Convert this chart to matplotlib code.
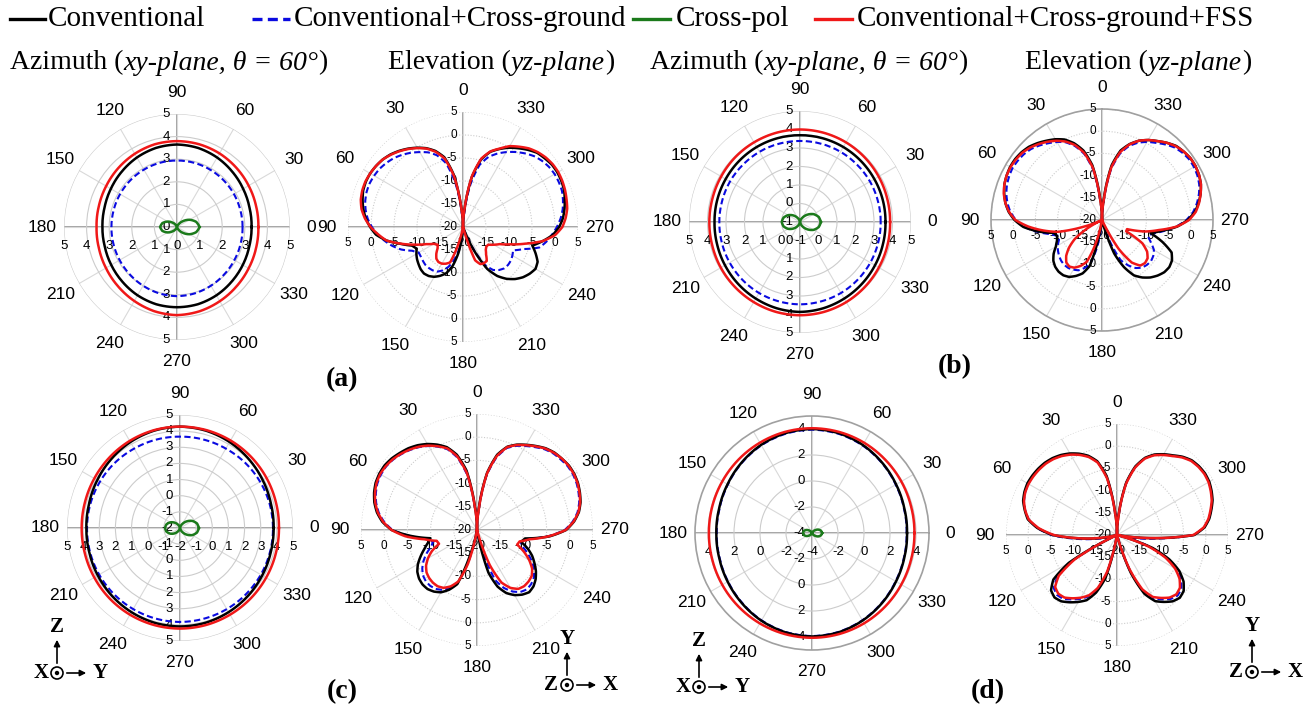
import numpy as np
import matplotlib.pyplot as plt
import matplotlib.transforms as mtransforms
from matplotlib.patches import Circle

W, H = 1311, 713
SERIF = 'Liberation Serif'
plt.rcParams['font.family'] = 'Liberation Sans'

# angle grids (deg)
AZ_DEG = np.arange(0, 360, 15)
EL_DEG = np.arange(0, 360, 5)

# ---------------- azimuth cuts (dB), 15 deg steps ----------------
a_az_conv = [3.30, 3.32, 3.38, 3.46, 3.55, 3.62, 3.65, 3.62, 3.55, 3.46, 3.38, 3.32,
             3.30, 3.31, 3.36, 3.42, 3.49, 3.54, 3.55, 3.54, 3.49, 3.42, 3.36, 3.31]
a_az_cg = [2.90, 2.90, 2.91, 2.92, 2.93, 2.94, 2.94, 2.94, 2.93, 2.92, 2.91, 2.90,
           2.90, 2.91, 2.93, 2.96, 3.00, 3.04, 3.06, 3.04, 3.00, 2.96, 2.93, 2.91]
a_az_xpol = [1.00, 0.88, 0.64, 0.36, 0.14, 0.03, 0.00, 0.02, 0.10, 0.27, 0.48, 0.67,
             0.75, 0.67, 0.48, 0.27, 0.10, 0.02, 0.00, 0.03, 0.14, 0.36, 0.64, 0.88]
a_az_fss = [3.60, 3.62, 3.66, 3.71, 3.76, 3.79, 3.80, 3.79, 3.74, 3.68, 3.62, 3.58,
            3.56, 3.58, 3.63, 3.70, 3.78, 3.86, 3.90, 3.86, 3.79, 3.72, 3.66, 3.62]

b_az_conv = [3.62, 3.63, 3.64, 3.66, 3.68, 3.69, 3.69, 3.69, 3.68, 3.66, 3.64, 3.63,
             3.62, 3.64, 3.68, 3.73, 3.78, 3.83, 3.86, 3.83, 3.78, 3.73, 3.68, 3.64]
b_az_cg = [3.36, 3.36, 3.37, 3.37, 3.38, 3.38, 3.38, 3.38, 3.38, 3.37, 3.37, 3.36,
           3.36, 3.37, 3.39, 3.41, 3.43, 3.44, 3.45, 3.44, 3.43, 3.41, 3.39, 3.37]
b_az_xpol = [0.13, 0.05, -0.15, -0.44, -0.72, -0.92, -1.00, -0.93, -0.75, -0.50, -0.26, -0.08,
             -0.01, -0.08, -0.26, -0.50, -0.75, -0.93, -1.00, -0.92, -0.72, -0.44, -0.15, 0.05]
b_az_fss = [3.87, 3.88, 3.91, 3.94, 3.97, 3.99, 4.00, 3.99, 3.97, 3.95, 3.92, 3.90,
            3.90, 3.91, 3.94, 3.97, 4.00, 4.03, 4.04, 4.03, 4.00, 3.96, 3.92, 3.89]

c_az_conv = [3.80, 3.83, 3.92, 4.03, 4.15, 4.24, 4.28, 4.24, 4.15, 4.03, 3.92, 3.83,
             3.80, 3.82, 3.88, 3.95, 4.02, 4.08, 4.10, 4.08, 4.02, 3.95, 3.88, 3.82]
c_az_cg = [3.76, 3.75, 3.73, 3.71, 3.68, 3.67, 3.66, 3.67, 3.68, 3.71, 3.73, 3.75,
           3.76, 3.77, 3.78, 3.79, 3.80, 3.81, 3.82, 3.81, 3.80, 3.79, 3.78, 3.77]
c_az_xpol = [-0.83, -0.91, -1.12, -1.42, -1.71, -1.92, -2.00, -1.94, -1.77, -1.53, -1.30, -1.13,
             -1.07, -1.13, -1.30, -1.53, -1.77, -1.94, -2.00, -1.92, -1.71, -1.42, -1.12, -0.91]
c_az_fss = [4.13, 4.15, 4.19, 4.23, 4.26, 4.28, 4.28, 4.27, 4.23, 4.18, 4.13, 4.10,
            4.09, 4.10, 4.13, 4.17, 4.20, 4.22, 4.23, 4.22, 4.20, 4.18, 4.16, 4.14]

d_az_conv = [3.31, 3.35, 3.47, 3.64, 3.82, 3.95, 4.00, 3.95, 3.83, 3.66, 3.50, 3.39,
             3.36, 3.39, 3.49, 3.63, 3.79, 3.91, 3.96, 3.91, 3.78, 3.62, 3.46, 3.35]
d_az_cg = [3.28, 3.32, 3.44, 3.61, 3.78, 3.90, 3.95, 3.90, 3.79, 3.63, 3.47, 3.36,
           3.33, 3.36, 3.46, 3.60, 3.76, 3.88, 3.93, 3.88, 3.75, 3.59, 3.43, 3.32]
d_az_xpol = [-3.22, -3.29, -3.47, -3.72, -3.91, -3.99, -4.00, -3.99, -3.92, -3.75, -3.53, -3.36,
             -3.30, -3.36, -3.53, -3.75, -3.92, -3.99, -4.00, -3.99, -3.91, -3.72, -3.47, -3.29]
d_az_fss = [3.88, 3.89, 3.93, 3.97, 4.02, 4.05, 4.06, 4.05, 4.02, 3.99, 3.96, 3.94,
            3.93, 3.94, 3.97, 4.00, 4.03, 4.05, 4.06, 4.05, 4.02, 3.98, 3.93, 3.89]

# ---------------- elevation cuts (dB), 5 deg steps ----------------
a_el_conv = [-20, -16, -8.5, -4.3, -2.4, -1.1, -0.1, 0.8, 1.6, 2.3, 2.8, 3.1,
             3.3, 3.3, 3.1, 2.6, 2.0, 1.2, 0.2, -1.0, -3.1, -5.9, -8.2, -8.9,
             -8.3, -7.8, -7.4, -7.0, -6.8, -7.0, -7.5, -8.3, -9.3, -11.2, -14.3, -18.5,
             -20, -20, -20, -20, -20, -14.5, -9.5, -7.0, -5.3, -4.0, -3.0, -2.3,
             -1.8, -2.1, -3.2, -4.4, -2.4, -0.4, 0.9, 1.8, 2.4, 2.9, 3.4, 3.6,
             3.7, 3.6, 3.2, 2.8, 1.9, 0.9, -0.1, -1.3, -2.6, -4.8, -9.0, -16]
a_el_cg = [-20, -17, -10, -5.6, -3.4, -2.1, -1.2, -0.3, 0.5, 1.2, 1.7, 2.1,
           2.3, 2.4, 2.3, 2.0, 1.5, 0.8, -0.2, -1.4, -2.7, -4.1, -5.7, -7.8,
           -8.9, -8.8, -8.6, -8.4, -8.4, -8.5, -8.8, -9.6, -10.8, -12.7, -15.0, -18.0,
           -20, -20, -20, -20, -20, -15.0, -10.5, -8.6, -7.8, -7.3, -7.2, -7.3,
           -7.6, -8.0, -6.0, -2.8, -1.6, -0.6, 0.4, 1.3, 2.0, 2.5, 2.9, 3.0,
           3.0, 2.8, 2.4, 1.8, 0.9, -0.1, -1.2, -2.4, -3.8, -6.0, -10.5, -17]
a_el_fss = [-20, -16, -8.8, -4.6, -2.6, -1.2, -0.2, 0.7, 1.5, 2.2, 2.8, 3.1,
            3.3, 3.4, 3.3, 3.0, 2.4, 1.4, 0.1, -1.5, -3.1, -6.0, -8.8, -11.2,
            -12.7, -13.3, -12.8, -11.8, -11.0, -10.7, -10.8, -11.2, -11.8, -16.3, -20, -20,
            -20, -20, -20, -20, -12.3, -11.1, -10.9, -11.0, -12.2, -13.0, -13.4, -13.3,
            -12.3, -11.2, -9.0, -6.0, -2.4, 0.1, 1.6, 2.4, 3.0, 3.3, 3.6, 3.8,
            3.9, 3.8, 3.5, 3.0, 2.3, 1.3, 0.3, -1.2, -2.5, -4.6, -8.8, -16]

b_el_conv = [-20, -15, -7.5, -3.8, -1.6, 0.0, 1.0, 1.8, 2.6, 3.3, 3.7, 3.9,
             3.9, 3.7, 3.4, 2.8, 2.1, 1.1, -0.3, -2.2, -5.3, -8.8, -9.3, -8.8,
             -8.0, -6.7, -5.7, -5.1, -4.8, -4.8, -5.2, -6.1, -7.2, -9.3, -17, -20,
             -20, -20, -20, -20, -12, -8.3, -5.6, -4.2, -3.1, -2.3, -1.7, -1.5,
             -1.8, -2.7, -5.5, -8.7, -6.2, -3.0, -0.7, 1.0, 2.1, 3.0, 3.7, 4.1,
             4.3, 4.3, 4.0, 3.6, 2.7, 1.7, 0.8, -0.3, -1.8, -3.8, -7.5, -15]
b_el_cg = [-20, -16, -8.5, -4.6, -2.3, -0.7, 0.3, 1.1, 1.9, 2.6, 3.0, 3.2,
           3.3, 3.1, 2.8, 2.3, 1.6, 0.7, -0.6, -2.4, -5.0, -7.8, -9.6, -9.3,
           -8.5, -7.9, -7.4, -7.0, -6.8, -6.8, -7.1, -7.5, -8.5, -9.8, -14, -20,
           -20, -20, -20, -20, -15, -10, -8.2, -6.8, -6.0, -5.7, -5.6, -5.9,
           -6.5, -7.8, -9.0, -8.3, -5.8, -3.2, -1.0, 0.6, 1.7, 2.6, 3.3, 3.7,
           3.9, 3.9, 3.6, 3.1, 2.2, 1.2, 0.3, -0.8, -2.3, -4.6, -8.5, -16]
b_el_fss = [-20, -15.5, -8.0, -4.3, -2.0, -0.5, 0.6, 1.5, 2.3, 3.0, 3.5, 3.7,
            3.8, 3.7, 3.4, 2.9, 2.1, 1.0, -0.5, -3.3, -6.5, -9.7, -15.5, -20,
            -16, -12.5, -10.3, -8.6, -7.5, -7.2, -7.6, -8.6, -10.0, -14.5, -20, -20,
            -20, -20, -20, -20, -20, -20, -12.5, -8.3, -6.6, -6.3, -6.6, -7.6,
            -9.5, -14, -14, -10, -7.0, -3.1, -0.4, 1.2, 2.2, 3.0, 3.7, 4.1,
            4.3, 4.3, 4.0, 3.5, 2.7, 1.7, 0.8, -0.3, -1.9, -4.2, -8.0, -15.5]

c_el_conv = [-20, -15, -7.0, -3.2, -1.0, 0.3, 1.4, 2.3, 3.0, 3.5, 4.0, 4.3,
             4.3, 4.1, 3.6, 2.9, 1.9, 0.5, -1.6, -5.6, -9.8, -9.0, -7.9, -6.6,
             -5.3, -4.3, -3.7, -3.4, -3.4, -3.8, -4.5, -5.8, -7.6, -15, -20, -20,
             -20, -20, -20, -10.5, -7.0, -5.0, -3.8, -3.0, -2.5, -2.8, -3.5, -4.5,
             -5.7, -6.9, -8.4, -10.2, -9.5, -4.3, -0.8, 1.0, 2.3, 3.1, 3.6, 4.0,
             4.2, 4.2, 3.9, 3.6, 3.0, 2.1, 1.2, 0.3, -0.9, -3.2, -7.5, -15]
c_el_cg = [-20, -15.5, -8.0, -3.9, -1.5, -0.2, 0.9, 1.8, 2.5, 3.1, 3.6, 3.9,
           3.9, 3.7, 3.2, 2.5, 1.5, 0.1, -1.8, -5.4, -9.0, -10.2, -9.5, -8.0,
           -6.7, -5.6, -4.8, -4.4, -4.3, -4.5, -5.1, -6.2, -8.0, -13, -20, -20,
           -20, -20, -20, -15, -8.5, -6.2, -4.7, -3.7, -3.3, -3.5, -4.0, -5.0,
           -6.3, -7.9, -9.6, -10.3, -9.0, -4.6, -1.1, 0.7, 2.0, 2.8, 3.3, 3.7,
           3.9, 3.9, 3.6, 3.3, 2.7, 1.8, 0.9, 0.0, -1.2, -3.8, -8.0, -15.5]
c_el_fss = [-20, -15.5, -7.6, -3.6, -1.3, -0.1, 1.0, 1.9, 2.6, 3.2, 3.7, 4.0,
            4.1, 3.9, 3.4, 2.7, 1.7, 0.3, -1.6, -4.5, -8.5, -11.0, -11.3, -9.3,
            -7.8, -6.6, -5.8, -5.4, -5.2, -5.2, -5.6, -6.6, -8.2, -12.5, -20, -20,
            -20, -20, -20, -20, -12, -7.5, -5.6, -4.5, -4.2, -4.3, -4.6, -5.5,
            -7.0, -8.8, -10.8, -10.5, -8.5, -4.5, -0.9, 0.9, 2.2, 3.0, 3.5, 3.9,
            4.1, 4.1, 3.9, 3.5, 2.9, 2.0, 1.1, 0.2, -1.0, -3.5, -7.7, -15.5]

d_el_conv = [-20, -14.5, -6.5, -2.8, -1.0, 0.2, 1.2, 2.0, 2.6, 3.0, 3.2, 3.3,
             3.3, 3.0, 2.5, 1.5, 0.4, -2.0, -5.5, -11.5, -16, -20, -20, -20,
             -7.5, -2.5, -0.6, -0.1, -0.5, -1.5, -2.6, -3.8, -6.2, -10, -20, -20,
             -20, -20, -20, -20, -11, -5.4, -2.8, -1.6, -0.5, 0.0, -0.4, -1.7,
             -3.8, -7.0, -11.5, -20, -20, -12, -2.6, -0.2, 1.1, 2.0, 2.9, 3.5,
             4.0, 4.2, 4.1, 3.8, 3.0, 1.9, 1.0, 0.0, -1.5, -4.0, -8.0, -15]
d_el_cg = [-20, -14.8, -6.8, -3.0, -1.2, 0.0, 1.0, 1.8, 2.4, 2.8, 3.0, 3.1,
           3.1, 2.8, 2.3, 1.4, 0.2, -2.0, -5.2, -10.5, -15, -18, -20, -20,
           -8.5, -3.6, -1.4, -0.9, -1.2, -2.3, -3.4, -4.7, -7.0, -11, -20, -20,
           -20, -20, -20, -20, -11.5, -6.0, -3.5, -2.3, -1.2, -0.7, -1.1, -2.4,
           -4.5, -7.6, -12, -18, -16, -11, -2.7, -0.3, 1.0, 1.9, 2.8, 3.4,
           3.9, 4.1, 4.0, 3.7, 2.9, 1.8, 0.9, -0.1, -1.6, -4.2, -8.2, -15.2]
d_el_fss = [-20, -15, -7.0, -3.1, -1.3, -0.1, 0.9, 1.7, 2.3, 2.7, 2.9, 3.0,
            3.0, 2.8, 2.3, 1.4, 0.2, -2.3, -5.8, -11.5, -16.5, -20, -20, -20,
            -9.0, -4.0, -1.8, -1.3, -1.6, -2.6, -3.7, -5.0, -7.3, -11.5, -20, -20,
            -20, -20, -20, -20, -12, -6.5, -3.9, -2.7, -1.6, -1.1, -1.5, -2.8,
            -4.9, -8.0, -12.5, -20, -20, -12, -2.8, -0.4, 0.9, 1.8, 2.7, 3.3,
            3.8, 4.0, 3.9, 3.6, 2.8, 1.7, 0.8, -0.2, -1.7, -4.3, -8.3, -15.3]

LEGEND = ['Conventional', 'Conventional+Cross-ground', 'Cross-pol',
          'Conventional+Cross-ground+FSS']

BLACK, BLUE, GREEN, RED = 'black', '#0a0ae0', '#1b7a1b', '#f01818'

fig = plt.figure(figsize=(W / 100, H / 100), dpi=100)


def panel(cx, cy, rad, rmin, rmax, ticks, elev, framed=False):
    ax = fig.add_axes([(cx - rad) / W, 1 - (cy + rad) / H, 2 * rad / W, 2 * rad / H],
                      projection='polar')
    if elev:
        ax.set_theta_zero_location('N')
    rings = [t for t in ticks if t > rmin]
    if rmax not in rings and not framed:
        rings.append(rmax)
    ax.set_yticks(rings)
    ax.set_yticklabels([])
    ax.set_xticks(np.deg2rad(np.arange(0, 360, 30)))
    ax.set_xticklabels([str(a) for a in range(0, 360, 30)], fontsize=12.5)
    ax.tick_params(axis='x', pad=5)
    ax.xaxis.grid(True, color='#d9d9d9', lw=0.8)
    ax.yaxis.grid(True, color='#cccccc', lw=0.8, ls=(0, (1, 1.5)) if elev else '-')
    ax.spines['polar'].set_visible(framed)
    ax.spines['polar'].set_color('#a0a0a0')
    ax.spines['polar'].set_linewidth(1.2)
    ax.plot([0, 1], [0.5, 0.5], transform=ax.transAxes, color='#8c8c8c', lw=1.1, zorder=1.5)
    ax.plot([0.5, 0.5], [0, 1], transform=ax.transAxes, color='#8c8c8c', lw=1.1, zorder=1.5)

    fs = 8.5 if elev else 9.5
    left = mtransforms.offset_copy(ax.transAxes, fig=fig, x=-4 if elev else -5, y=0, units='points')
    below = mtransforms.offset_copy(ax.transAxes, fig=fig, x=0, y=-11.5 if elev else -13.5,
                                    units='points')
    for t in ticks:
        f = 0.5 * (t - rmin) / (rmax - rmin)
        lab = f'{t:g}'
        ax.text(0.5, 0.5 + f, lab, transform=left, ha='right', va='center', fontsize=fs)
        ax.text(0.5 - f, 0.5, lab, transform=below, ha='center', va='center', fontsize=fs)
        if f > 0:
            ax.text(0.5, 0.5 - f, lab, transform=left, ha='right', va='center', fontsize=fs)
            ax.text(0.5 + f, 0.5, lab, transform=below, ha='center', va='center', fontsize=fs)
    ax.set_ylim(rmin, rmax)
    return ax


def trace(ax, deg, vals, **kw):
    th = np.deg2rad(np.append(deg, deg[0] + 360))
    line, = ax.plot(th, np.append(vals, vals[0]), **kw)
    # let the polar transform bend each segment along theta instead of a chord
    line.get_path()._interpolation_steps = 12


def draw(ax, deg, conv, cg, fss, xpol=None):
    trace(ax, deg, cg, color=BLUE, lw=1.5, ls=(0, (3, 1.6)), zorder=3)
    trace(ax, deg, conv, color=BLACK, lw=1.8, zorder=3)
    if xpol is not None:
        trace(ax, deg, xpol, color=GREEN, lw=1.8, zorder=3)
    trace(ax, deg, fss, color=RED, lw=1.8, zorder=4)


EL_TICKS = [-20, -15, -10, -5, 0, 5]

ax = panel(177, 227, 113, 0, 5, [0, 1, 2, 3, 4, 5], False)
draw(ax, AZ_DEG, a_az_conv, a_az_cg, a_az_fss, a_az_xpol)
ax = panel(463, 227, 115, -20, 5, EL_TICKS, True)
draw(ax, EL_DEG, a_el_conv, a_el_cg, a_el_fss)

ax = panel(800, 222, 111, -1, 5, [-1, 0, 1, 2, 3, 4, 5], False)
draw(ax, AZ_DEG, b_az_conv, b_az_cg, b_az_fss, b_az_xpol)
ax = panel(1102, 220, 111, -20, 5, EL_TICKS, True, framed=True)
draw(ax, EL_DEG, b_el_conv, b_el_cg, b_el_fss)

ax = panel(180, 528, 113, -2, 5, [-2, -1, 0, 1, 2, 3, 4, 5], False)
draw(ax, AZ_DEG, c_az_conv, c_az_cg, c_az_fss, c_az_xpol)
ax = panel(477, 530, 116, -20, 5, EL_TICKS, True)
draw(ax, EL_DEG, c_el_conv, c_el_cg, c_el_fss)

ax = panel(812, 533, 117, -4, 5, [-4, -2, 0, 2, 4], False, framed=True)
draw(ax, AZ_DEG, d_az_conv, d_az_cg, d_az_fss, d_az_xpol)
ax = panel(1117, 535, 111, -20, 5, EL_TICKS, True)
draw(ax, EL_DEG, d_el_conv, d_el_cg, d_el_fss)

# overlay in pixel coordinates for legend, titles, labels and axis triads
ov = fig.add_axes([0, 0, 1, 1])
ov.set_xlim(0, W)
ov.set_ylim(H, 0)
ov.axis('off')

leg_x = [(10, 45, 48), (252, 290, 294), (633, 670, 676), (815, 852, 857)]
styles = [dict(color=BLACK), dict(color=BLUE, ls=(0, (3, 1.6))), dict(color=GREEN), dict(color=RED)]
for (x0, x1, xt), name, st in zip(leg_x, LEGEND, styles):
    ov.plot([x0, x1], [19, 19], lw=2.4, **st)
    ov.text(xt, 19, name, family=SERIF, fontsize=21, va='center', ha='left')


def title(x, head, ital, tail):
    t1 = ov.text(x, 63, head, family=SERIF, fontsize=20, va='center', ha='left')
    t2 = ov.annotate(ital, xy=(1, 0), xycoords=t1, va='bottom', ha='left',
                     family=SERIF, fontsize=20, style='italic')
    ov.annotate(tail, xy=(1, 0), xycoords=t2, va='bottom', ha='left',
                family=SERIF, fontsize=20)


title(10, 'Azimuth (', 'xy-plane, \u03b8 = 60\u00b0', ')')
title(388, 'Elevation (', 'yz-plane', ')')
title(650, 'Azimuth (', 'xy-plane, \u03b8 = 60\u00b0', ')')
title(1025, 'Elevation (', 'yz-plane', ')')

for x, y, s in [(342, 380, '(a)'), (955, 367, '(b)'), (342, 692, '(c)'), (988, 692, '(d)')]:
    ov.text(x, y, s, family=SERIF, fontsize=20, weight='bold', ha='center', va='center')


def triad(x, y, up, left, right):
    ov.add_patch(Circle((x, y), 6, fill=False, lw=1.2, color='black'))
    ov.add_patch(Circle((x, y), 1.5, color='black'))
    ov.annotate('', xy=(x, y - 36), xytext=(x, y - 7),
                arrowprops=dict(arrowstyle='-|>', color='black', lw=1.2, mutation_scale=9))
    ov.annotate('', xy=(x + 32, y), xytext=(x + 7, y),
                arrowprops=dict(arrowstyle='-|>', color='black', lw=1.2, mutation_scale=9))
    kw = dict(family=SERIF, fontsize=15, weight='bold', ha='center', va='center')
    ov.text(x, y - 46, up, **kw)
    ov.text(x - 16, y, left, **kw)
    ov.text(x + 43, y, right, **kw)


triad(57, 673, 'Z', 'X', 'Y')
triad(567, 685, 'Y', 'Z', 'X')
triad(699, 687, 'Z', 'X', 'Y')
triad(1252, 672, 'Y', 'Z', 'X')

fig.savefig('out.png', dpi=100)
